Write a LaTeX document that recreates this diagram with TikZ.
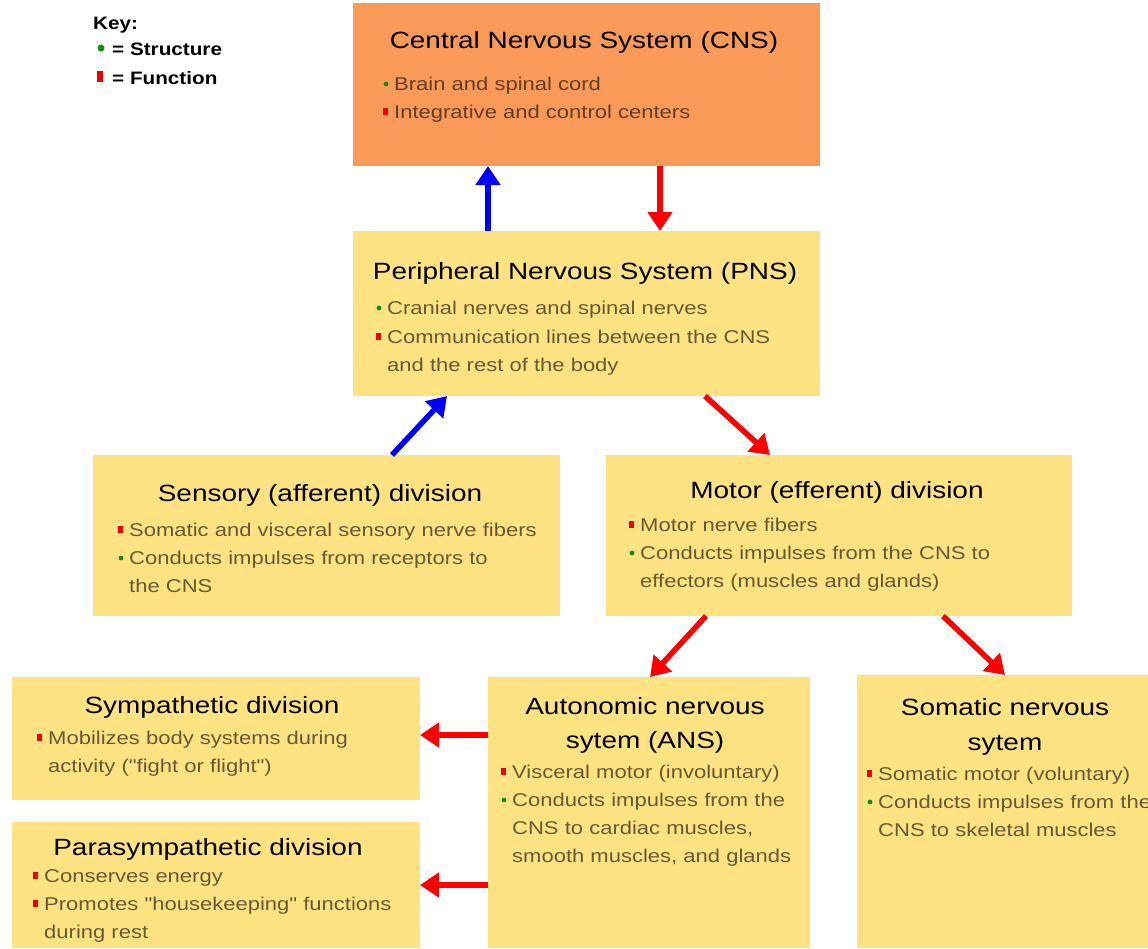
\documentclass[tikz,border=0pt]{standalone}
\usepackage{fontspec}
\setmainfont{Liberation Sans}
\newfontfamily\stretchf{Liberation Sans}[FakeStretch=1.19]
\newfontfamily\keyf{Liberation Sans}[FakeStretch=1.15]
\usetikzlibrary{arrows.meta}
\definecolor{cnsorange}{RGB}{250,154,88}
\definecolor{boxyellow}{RGB}{255,226,130}
\definecolor{kred}{RGB}{240,0,0}
\definecolor{kgreen}{RGB}{20,140,20}
\definecolor{ablue}{RGB}{0,0,255}
\definecolor{ared}{RGB}{255,0,0}
\newcommand\gitem[4]{\node[body] (#1) at (#2,#3) {#4};
  \fill[kgreen] ([xshift=-8pt,yshift=6pt]#1.base west) circle (2.4pt);}
\newcommand\ritem[4]{\node[body] (#1) at (#2,#3) {#4};
  \fill[kred] ([xshift=-11pt,yshift=3pt]#1.base west) rectangle ++(5pt,7pt);}
\newcommand\contline[4]{\node[body] (#1) at (#2,#3) {#4};}
\begin{document}
\begin{tikzpicture}[x=1pt,y=-1pt,
 box/.style={fill=boxyellow, draw=none, anchor=north west, inner sep=0pt, outer sep=0pt},
 ttl/.style={anchor=base, inner sep=0pt, font=\stretchf\fontsize{23.5}{28}\selectfont},
 body/.style={anchor=base west, inner sep=0pt, font=\stretchf\fontsize{18.5}{28}\selectfont, text opacity=0.6},
 keytext/.style={anchor=base west, inner sep=0pt, font=\keyf\bfseries\fontsize{18}{22}\selectfont},
 bconn/.style={ablue, line width=5.5pt, -{Triangle[width=24pt,length=19pt]}},
 rconn/.style={ared, line width=5.5pt, -{Triangle[width=24pt,length=19pt]}},
]
\useasboundingbox (0,0) rectangle (1148,948);
\fill[white] (0,0) rectangle (1148,948);

% boxes
\node[box, fill=cnsorange, minimum width=467pt, minimum height=163pt] (cns) at (353,3) {};
\node[box, minimum width=467pt, minimum height=165pt] (pns) at (353,231) {};
\node[box, minimum width=467pt, minimum height=161pt] (sens) at (93,455) {};
\node[box, minimum width=466pt, minimum height=161pt] (motor) at (606,455) {};
\node[box, minimum width=408pt, minimum height=123pt] (symp) at (12,677) {};
\node[box, minimum width=408pt, minimum height=126pt] (para) at (12,822) {};
\node[box, minimum width=322pt, minimum height=271pt] (ans) at (488,677) {};
\node[box, minimum width=300pt, minimum height=273pt] (soma) at (857,675) {};

% key
\node[keytext] (key) at (93,29) {Key:};
\node[keytext] (keys) at (112,55) {= Structure};
\node[keytext] (keyf) at (112,84) {= Function};
\fill[kgreen] ([xshift=-11pt,yshift=7pt]keys.base west) circle (3.5pt);
\fill[kred] ([xshift=-15pt,yshift=2pt]keyf.base west) rectangle ++(6pt,11pt);

% CNS
\node[ttl] (cnst) at (584,48) {Central Nervous System (CNS)};
\gitem{cns1}{394}{90}{Brain and spinal cord}
\ritem{cns2}{394}{118}{Integrative and control centers}

% PNS
\node[ttl] (pnst) at (585,279) {Peripheral Nervous System (PNS)};
\gitem{pns1}{387}{314}{Cranial nerves and spinal nerves}
\ritem{pns2}{387}{343}{Communication lines between the CNS}
\contline{pns3}{387}{371}{and the rest of the body}

% Sensory
\node[ttl] (senst) at (320,501) {Sensory (afferent) division};
\ritem{sens1}{129}{536}{Somatic and visceral sensory nerve fibers}
\gitem{sens2}{129}{564}{Conducts impulses from receptors to}
\contline{sens3}{129}{592}{the CNS}

% Motor
\node[ttl] (motort) at (837,498) {Motor (efferent) division};
\ritem{motor1}{640}{531}{Motor nerve fibers}
\gitem{motor2}{640}{559}{Conducts impulses from the CNS to}
\contline{motor3}{640}{587}{effectors (muscles and glands)}

% Sympathetic
\node[ttl] (sympt) at (212,713) {Sympathetic division};
\ritem{symp1}{48}{744}{Mobilizes body systems during}
\contline{symp2}{48}{772}{activity ("fight or flight")}

% Parasympathetic
\node[ttl] (parat) at (208,855) {Parasympathetic division};
\ritem{para1}{44}{882}{Conserves energy}
\ritem{para2}{44}{910}{Promotes "housekeeping" functions}
\contline{para3}{44}{938}{during rest}

% ANS
\node[ttl] (anst1) at (645,714) {Autonomic nervous};
\node[ttl] (anst2) at (645,748) {sytem (ANS)};
\ritem{ans1}{512}{778}{Visceral motor (involuntary)}
\gitem{ans2}{512}{806}{Conducts impulses from the}
\contline{ans3}{512}{834}{CNS to cardiac muscles,}
\contline{ans4}{512}{862}{smooth muscles, and glands}

% Somatic
\node[ttl] (somat1) at (1005,715) {Somatic nervous};
\node[ttl] (somat2) at (1005,750) {sytem};
\ritem{soma1}{878}{780}{Somatic motor (voluntary)}
\gitem{soma2}{878}{808}{Conducts impulses from the}
\contline{soma3}{878}{836}{CNS to skeletal muscles}

% connectors
\draw[bconn] ([xshift=135pt]pns.north west) -- ([xshift=135pt]cns.south west);
\draw[rconn] ([xshift=307pt]cns.south west) -- ([xshift=307pt]pns.north west);
\draw[bconn] ([xshift=299pt]sens.north west) -- ([xshift=94pt]pns.south west);
\draw[rconn] ([xshift=352pt]pns.south west) -- ([xshift=164pt]motor.north west);
\draw[rconn] ([xshift=100pt]motor.south west) -- ([xshift=162pt]ans.north west);
\draw[rconn] ([xshift=337pt]motor.south west) -- ([xshift=148pt]soma.north west);
\draw[rconn] ([yshift=-58pt]ans.north west) -- ([yshift=-58pt]symp.north east);
\draw[rconn] ([yshift=-208pt]ans.north west) -- ([yshift=-63pt]para.north east);
\end{tikzpicture}
\end{document}
